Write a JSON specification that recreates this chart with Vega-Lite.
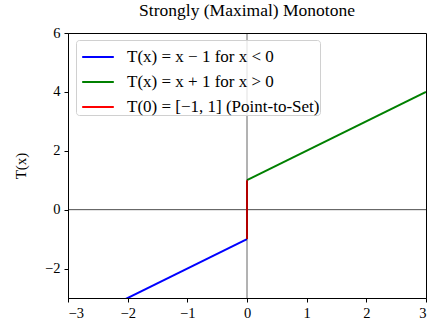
{
  "$schema": "https://vega.github.io/schema/vega-lite/v6.json",
  "width": 358,
  "height": 265,
  "autosize": {"type": "none"},
  "padding": {"left": 68, "top": 33, "right": 6, "bottom": 28},
  "background": "white",
  "title": {
    "text": "Strongly (Maximal) Monotone",
    "font": "Liberation Serif",
    "fontSize": 17.5,
    "fontWeight": "normal",
    "color": "black",
    "offset": 6
  },
  "config": {
    "view": {"stroke": "black", "strokeWidth": 1},
    "font": "Liberation Serif",
    "axis": {
      "labelFont": "Liberation Serif",
      "labelFontSize": 14.5,
      "labelColor": "black",
      "titleFont": "Liberation Serif",
      "titleFontSize": 15,
      "titleFontWeight": "normal",
      "titleColor": "black",
      "domainColor": "black",
      "tickColor": "black",
      "tickSize": 4,
      "grid": false
    }
  },
  "datasets": {
    "curves": [
      {"series": "T(x) = x − 1 for x < 0", "x": -3, "y": -4},
      {"series": "T(x) = x − 1 for x < 0", "x": 0, "y": -1},
      {"series": "T(x) = x + 1 for x > 0", "x": 0, "y": 1},
      {"series": "T(x) = x + 1 for x > 0", "x": 3, "y": 4},
      {"series": "T(0) = [−1, 1] (Point-to-Set)", "x": 0, "y": -1},
      {"series": "T(0) = [−1, 1] (Point-to-Set)", "x": 0, "y": 1}
    ],
    "zeroLines": [{"v": 0}]
  },
  "layer": [
    {
      "data": {"name": "zeroLines"},
      "mark": {"type": "rule", "color": "black", "opacity": 0.7, "strokeWidth": 1},
      "encoding": {"y": {"field": "v", "type": "quantitative", "scale": {"domain": [-3, 6]}}}
    },
    {
      "data": {"name": "curves"},
      "mark": {"type": "line", "strokeWidth": 2, "clip": true},
      "encoding": {
        "x": {
          "field": "x",
          "type": "quantitative",
          "scale": {"domain": [-3, 3], "nice": false, "zero": false},
          "axis": {"values": [-3, -2, -1, 0, 1, 2, 3], "format": "d", "title": null, "labelPadding": 4}
        },
        "y": {
          "field": "y",
          "type": "quantitative",
          "scale": {"domain": [-3, 6], "nice": false, "zero": false},
          "axis": {"values": [-2, 0, 2, 4, 6], "format": "d", "title": "T(x)", "titlePadding": 16, "labelPadding": 4}
        },
        "color": {
          "field": "series",
          "type": "nominal",
          "scale": {
            "domain": ["T(x) = x − 1 for x < 0", "T(x) = x + 1 for x > 0", "T(0) = [−1, 1] (Point-to-Set)"],
            "range": ["#0000ff", "#008000", "#ff0000"]
          },
          "legend": {
            "title": null,
            "orient": "none",
            "legendX": 8,
            "legendY": 7,
            "symbolType": "stroke",
            "symbolSize": 1000,
            "symbolStrokeWidth": 2,
            "symbolOffset": 5,
            "labelFont": "Liberation Serif",
            "labelFontSize": 17,
            "labelColor": "black",
            "labelOffset": 12,
            "rowPadding": -8,
            "padding": 0,
            "strokeColor": "#d0d0d0",
            "fillColor": "rgba(255,255,255,0.8)",
            "cornerRadius": 3,
            "labelLimit": 400
          }
        },
        "detail": {"field": "series"}
      }
    },
    {
      "data": {"name": "zeroLines"},
      "mark": {"type": "rule", "color": "black", "opacity": 0.6, "strokeWidth": 1},
      "encoding": {"x": {"field": "v", "type": "quantitative"}}
    }
  ]
}
